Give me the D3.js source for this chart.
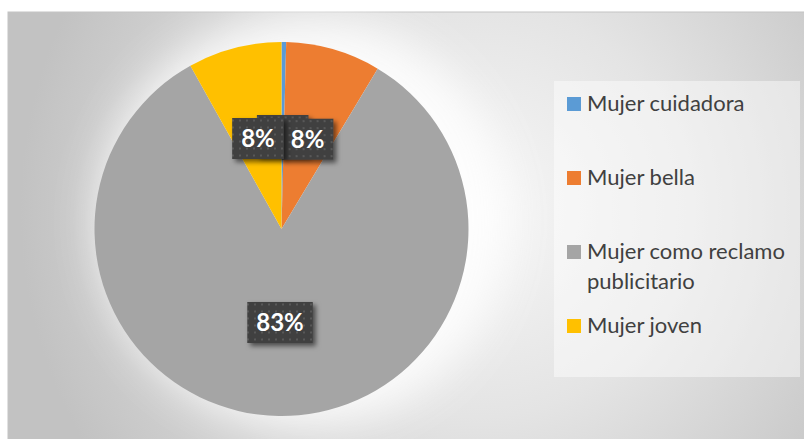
<!DOCTYPE html>
<html>
<head>
<meta charset="utf-8">
<script src="https://cdn.jsdelivr.net/npm/d3@7"></script>
<style>
  body { margin: 0; background: #fff; }
  svg { display: block; }
</style>
</head>
<body>
<svg id="chart" width="804" height="439"></svg>
<script>
// data (percent of total)
const categories = ["Mujer cuidadora", "Mujer bella", "Mujer como reclamo publicitario", "Mujer joven"];
const values = [0.4, 8.2, 83.3, 8.1];
const colors = ["#5b9bd5", "#ed7d31", "#a5a5a5", "#ffc000"];
// legend text as it wraps in the original
const legendLines = [["Mujer cuidadora"], ["Mujer bella"], ["Mujer como reclamo", "publicitario"], ["Mujer joven"]];

const svg = d3.select("#chart");
const defs = svg.append("defs");
const fontFamily = "Lato, 'Open Sans', sans-serif";

// background gradient of the chart area
const bg = defs.append("radialGradient").attr("id", "bg")
    .attr("gradientUnits", "userSpaceOnUse")
    .attr("cx", 480).attr("cy", 210).attr("r", 460);
bg.append("stop").attr("offset", "0%").attr("stop-color", "#f7f7f7");
bg.append("stop").attr("offset", "45%").attr("stop-color", "#e4e4e4");
bg.append("stop").attr("offset", "100%").attr("stop-color", "#c2c2c2");

// soft white glow behind the pie
defs.append("filter").attr("id", "glow")
    .attr("x", "-50%").attr("y", "-50%").attr("width", "200%").attr("height", "200%")
    .append("feGaussianBlur").attr("stdDeviation", 22);

// drop shadow for the data labels
const shadow = defs.append("filter").attr("id", "shadow")
    .attr("x", "-30%").attr("y", "-30%").attr("width", "160%").attr("height", "160%");
shadow.append("feDropShadow").attr("dx", 3).attr("dy", 3)
    .attr("stdDeviation", 2.5).attr("flood-color", "#000").attr("flood-opacity", 0.55);

// dotted fill of label boxes
const pat = defs.append("pattern").attr("id", "dots")
    .attr("patternUnits", "userSpaceOnUse").attr("width", 7).attr("height", 7);
pat.append("rect").attr("width", 7).attr("height", 7).attr("fill", "#404040");
pat.append("rect").attr("x", 2).attr("y", 2).attr("width", 2).attr("height", 2).attr("fill", "#595959");

const area = { x: 8, y: 12, w: 800, h: 430 };
svg.append("rect")
    .attr("x", area.x).attr("y", area.y).attr("width", area.w).attr("height", area.h)
    .attr("fill", "url(#bg)").attr("stroke", "#c4c4c4");

const cx = 281.5, cy = 229, radius = 187;

const pie = d3.pie().sort(null).value(d => d)(values);
const arc = d3.arc().innerRadius(0).outerRadius(radius);
const total = d3.sum(values);

const g = svg.append("g").attr("transform", `translate(${cx},${cy})`);

g.append("circle")
    .attr("cx", 22).attr("cy", -8).attr("r", radius + 18)
    .attr("fill", "#fff").attr("opacity", 0.85)
    .attr("filter", "url(#glow)");

g.selectAll("path.slice").data(pie).enter().append("path")
    .attr("class", "slice")
    .attr("d", arc)
    .attr("fill", (d, i) => colors[i]);

// data labels, smallest slice drawn first so the others cover it
const labels = g.selectAll("g.label").data(pie).enter().append("g")
    .attr("class", "label")
    .attr("transform", d => `translate(${arc.centroid(d)})`);

labels.each(function(d) {
    const lg = d3.select(this);
    const txt = Math.round(d.value / total * 100) + "%";
    const box = lg.append("rect").attr("fill", "url(#dots)").attr("filter", "url(#shadow)");
    const t = lg.append("text")
        .attr("text-anchor", "middle").attr("dy", "0.36em")
        .attr("font-family", fontFamily).attr("font-weight", "bold")
        .attr("font-size", 24).attr("fill", "#fff")
        .text(txt);
    const w = t.node().getComputedTextLength() + 18;
    box.attr("x", -w / 2).attr("y", -20.5).attr("width", w).attr("height", 41);
});

// legend
const lx = 554, ly = 81;
svg.append("rect").attr("x", lx).attr("y", ly).attr("width", 246).attr("height", 296)
    .attr("fill", "#fff").attr("opacity", 0.45);

const baseY = [111, 185, 259, 333];
const leg = svg.append("g").selectAll("g").data(categories).enter().append("g")
    .attr("transform", (d, i) => `translate(567,${baseY[i]})`);

leg.append("rect")
    .attr("y", -14).attr("width", 14).attr("height", 14)
    .attr("fill", (d, i) => colors[i]);

leg.append("text")
    .attr("x", 20)
    .attr("font-family", fontFamily).attr("font-size", 22).attr("fill", "#404040")
    .each(function(d, i) {
        legendLines[i].forEach((line, k) => {
            d3.select(this).append("tspan").attr("x", 20).attr("y", k * 30).text(line);
        });
    });
</script>
</body>
</html>
